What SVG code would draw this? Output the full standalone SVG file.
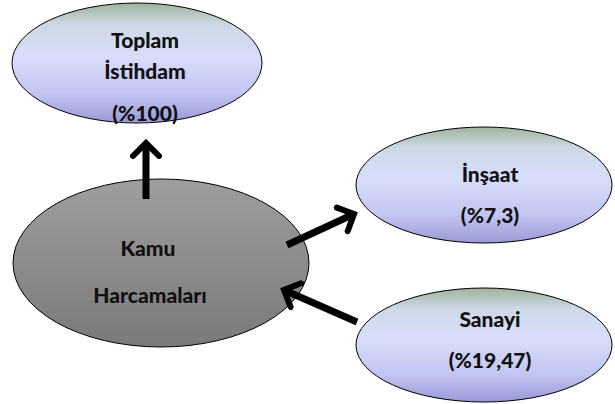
<svg xmlns="http://www.w3.org/2000/svg" width="615" height="404" viewBox="0 0 615 404">
<defs>
<linearGradient id="blue" x1="0" y1="0" x2="0" y2="1">
<stop offset="0" stop-color="#9fb39c"/>
<stop offset="0.18" stop-color="#cdd9e6"/>
<stop offset="0.45" stop-color="#d8ddfb"/>
<stop offset="0.75" stop-color="#c2c6f2"/>
<stop offset="1" stop-color="#9a9ad6"/>
</linearGradient>
<linearGradient id="gray" x1="0" y1="0" x2="0" y2="1">
<stop offset="0" stop-color="#9e9e9e"/>
<stop offset="1" stop-color="#7a7a7a"/>
</linearGradient>
<marker id="head" viewBox="-16 -16 32 32" markerWidth="32" markerHeight="32" markerUnits="userSpaceOnUse" orient="auto" refX="0" refY="0">
<path d="M-13,-13 L0,0 L-13,13" fill="none" stroke="#000" stroke-width="6" stroke-linecap="round" stroke-linejoin="miter"/>
</marker>
<style>
.node{stroke:#000;stroke-width:1}
.t{font-family:Lato,"Liberation Sans",Arial,sans-serif;font-weight:900;font-size:21px;fill:#111;text-anchor:middle}
.conn{stroke:#000;stroke-width:7;fill:none;marker-end:url(#head)}
</style>
</defs>
<g id="toplam">
<ellipse class="node" cx="137" cy="63" rx="125" ry="60" fill="url(#blue)"/>
<text class="t" x="145" y="48">Toplam</text>
<text class="t" x="145" y="79">İstihdam</text>
<text class="t" x="145" y="121">(%100)</text>
</g>
<g id="kamu">
<ellipse class="node" cx="161" cy="263" rx="148" ry="84" fill="url(#gray)"/>
<text class="t" x="148" y="256">Kamu</text>
<text class="t" x="150" y="303">Harcamaları</text>
</g>
<g id="insaat">
<ellipse class="node" cx="484" cy="185" rx="128" ry="58" fill="url(#blue)"/>
<text class="t" x="490" y="182">İnşaat</text>
<text class="t" x="490" y="223">(%7,3)</text>
</g>
<g id="sanayi">
<ellipse class="node" cx="484" cy="345" rx="128" ry="57" fill="url(#blue)"/>
<text class="t" x="490" y="327">Sanayi</text>
<text class="t" x="490" y="368">(%19,47)</text>
</g>
<g id="connectors">
<line class="conn" x1="146" y1="199" x2="146" y2="143"/>
<line class="conn" x1="287" y1="245" x2="354" y2="214"/>
<line class="conn" x1="357" y1="322" x2="284" y2="290"/>
</g>
</svg>
